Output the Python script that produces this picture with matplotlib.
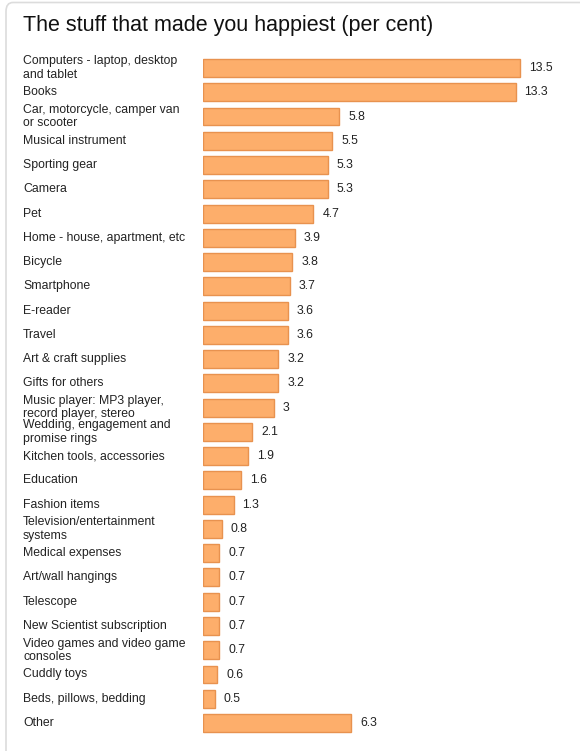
import matplotlib.pyplot as plt
from matplotlib import transforms
from matplotlib.patches import FancyBboxPatch

# %%
# Data

categories = [
    'Computers - laptop, desktop\nand tablet',
    'Books',
    'Car, motorcycle, camper van\nor scooter',
    'Musical instrument',
    'Sporting gear',
    'Camera',
    'Pet',
    'Home - house, apartment, etc',
    'Bicycle',
    'Smartphone',
    'E-reader',
    'Travel',
    'Art & craft supplies',
    'Gifts for others',
    'Music player: MP3 player,\nrecord player, stereo',
    'Wedding, engagement and\npromise rings',
    'Kitchen tools, accessories',
    'Education',
    'Fashion items',
    'Television/entertainment\nsystems',
    'Medical expenses',
    'Art/wall hangings',
    'Telescope',
    'New Scientist subscription',
    'Video games and video game\nconsoles',
    'Cuddly toys',
    'Beds, pillows, bedding',
    'Other',
]
values = [13.5, 13.3, 5.8, 5.5, 5.3, 5.3, 4.7, 3.9, 3.8, 3.7, 3.6, 3.6, 3.2,
          3.2, 3, 2.1, 1.9, 1.6, 1.3, 0.8, 0.7, 0.7, 0.7, 0.7, 0.7, 0.6, 0.5,
          6.3]
title = 'The stuff that made you happiest (per cent)'

# %%

plt.rcParams['font.family'] = ['Liberation Sans', 'DejaVu Sans']

W, H = 580, 751
fig = plt.figure(figsize=(W / 100, H / 100), dpi=100)

# light rounded frame peeking in at top-left
frame = FancyBboxPatch((6 / W, -0.05), 1.2, (H - 2.5) / H + 0.05,
                       boxstyle='round,pad=0,rounding_size=0.012',
                       transform=fig.transFigure, facecolor='white',
                       edgecolor='#dcdcdc', linewidth=1.2, zorder=-1)
fig.patches.append(frame)

ax_left = 203 / W
ax_right = 1.0
ax_top_px, ax_bot_px = 55.87, 735.15
ax = fig.add_axes([ax_left, (H - ax_bot_px) / H, ax_right - ax_left,
                   (ax_bot_px - ax_top_px) / H])
ax.set_facecolor('none')

pos = list(range(len(categories)))
ax.barh(pos, values, height=0.74, color='#fdae6b', edgecolor='#e8924f',
        linewidth=1.0)

ax.set_xlim(0, (W - 203) / 23.5)
ax.set_ylim(len(categories) - 0.5, -0.5)
ax.axis('off')

for p, v in zip(pos, values):
    ax.annotate(f'{v:g}', (v, p), xytext=(6.5, 0), textcoords='offset points',
                va='center', ha='left', fontsize=8.8, color='#222222')

label_tr = transforms.blended_transform_factory(fig.transFigure, ax.transData)
for p, lab in zip(pos, categories):
    ax.text(23 / W, p, lab, transform=label_tr, ha='left', va='center',
            fontsize=8.8, color='#222222', linespacing=1.15)

fig.text(23 / W, 1 - 25.5 / H, title, ha='left', va='center', fontsize=15.5,
         color='#111111')

fig.savefig('out.png', dpi=100)
